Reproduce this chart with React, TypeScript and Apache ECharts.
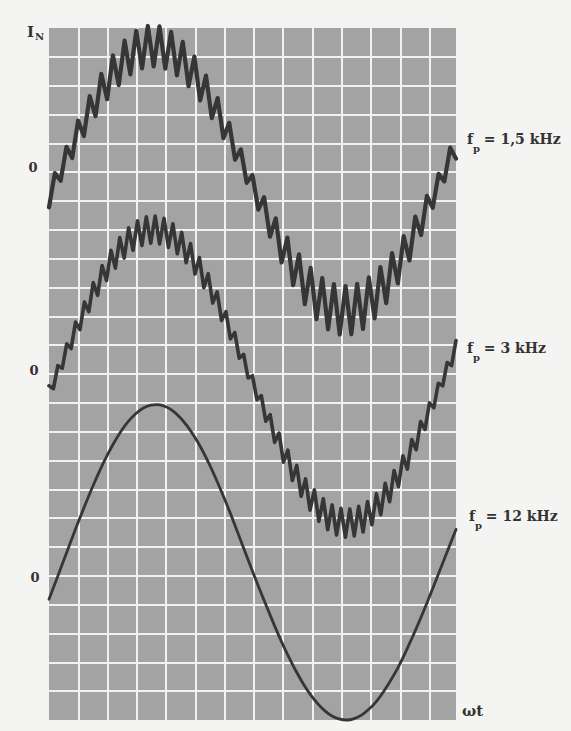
import React, { useEffect, useRef } from "react";
import * as echarts from "echarts";

// ωt axis spans 14 grid columns (last one partly cut), current axis spans 24 grid rows
const X_SPAN = 14;
const GRID_COLS_MAX = 13.9;
const GRID_ROWS = 24;

// f_p = 1.5 kHz current: zig-zag vertices (grid units)
const wave15 = [
  17.78, 18.97, 18.7, 19.88, 19.49, 20.79, 20.25, 21.64, 20.94, 22.41,
  21.53, 23.05, 22.02, 23.56, 22.39, 23.9, 22.6, 24.07, 22.67, 24.06,
  22.59, 23.87, 22.36, 23.52, 21.98, 23.01, 21.49, 22.35, 20.87, 21.57,
  20.18, 20.71, 19.43, 19.79, 18.63, 18.9, 17.7, 18.13, 16.76, 17.4,
  15.87, 16.73, 15.08, 16.15, 14.42, 15.68, 13.9, 15.33, 13.55, 15.12,
  13.37, 15.05, 13.38, 15.13, 13.56, 15.35, 13.93, 15.71, 14.46, 16.19,
  15.14, 16.78, 15.94, 17.46, 16.82, 18.18, 17.76, 18.94, 18.68, 19.85,
  19.47,
];

// f_p = 3 kHz current
const wave3 = [
  11.59, 11.49, 12.29, 12.2, 13.05, 12.88, 13.8, 13.54, 14.5, 14.16,
  15.17, 14.73, 15.76, 15.24, 16.29, 15.67, 16.73, 16.02, 17.07, 16.29,
  17.31, 16.46, 17.45, 16.54, 17.48, 16.51, 17.4, 16.39, 17.21, 16.17,
  16.91, 15.86, 16.52, 15.47, 16.04, 14.99, 15.48, 14.46, 14.85, 13.86,
  14.16, 13.22, 13.44, 12.55, 12.68, 11.86, 11.94, 11.11, 11.25, 10.36,
  10.59, 9.63, 9.95, 8.94, 9.36, 8.31, 8.83, 7.76, 8.36, 7.28,
  7.98, 6.89, 7.67, 6.6, 7.46, 6.42, 7.34, 6.34, 7.32, 6.38,
  7.41, 6.52, 7.58, 6.77, 7.85, 7.12, 8.21, 7.57, 8.65, 8.1,
  9.16, 8.7, 9.73, 9.37, 10.35, 10.08, 11.0, 10.83, 11.68, 11.59,
  12.4, 12.29, 13.16,
];

// f_p = 12 kHz current (smooth), sampled every quarter column
const wave12 = [
  4.19, 4.85, 5.52, 6.19, 6.85, 7.48, 8.09, 8.66, 9.18, 9.64,
  10.05, 10.38, 10.64, 10.82, 10.92, 10.94, 10.87, 10.73, 10.5, 10.2,
  9.83, 9.4, 8.9, 8.35, 7.76, 7.14, 6.48, 5.82, 5.16, 4.52,
  3.9, 3.29, 2.71, 2.18, 1.69, 1.25, 0.87, 0.56, 0.31, 0.13,
  0.03, 0.0, 0.05, 0.17, 0.37, 0.63, 0.97, 1.37, 1.81, 2.32,
  2.87, 3.45, 4.06, 4.69, 5.33, 5.97, 6.61,
];

const seriesNames = ["fp = 1,5 kHz", "fp = 3 kHz", "fp = 12 kHz"];
const freqTexts = [" = 1,5 kHz", " = 3 kHz", " = 12 kHz"];
const zeroLabel = "0";
const yAxisName = "I";
const yAxisSub = "N";
const xAxisName = "ωt";

function toPoints(values: number[]) {
  const n = values.length;
  return values.map((v, i) => [(i * X_SPAN) / (n - 1), v]);
}

const FONT = "DejaVu Serif";
const TXT = "#333333";

function txt(
  text: string,
  x: number,
  y: number,
  size: number,
  align = "left",
  weight = "bold"
) {
  return {
    type: "text",
    x,
    y,
    silent: true,
    style: {
      text,
      font: `${weight} ${size}px "${FONT}"`,
      fill: TXT,
      textAlign: align,
      textVerticalAlign: "middle",
      align,
      verticalAlign: "middle",
    },
  };
}

export default function App() {
  const ref = useRef<HTMLDivElement>(null);

  useEffect(() => {
    if (!ref.current) return;
    const chart = echarts.init(ref.current, undefined, { renderer: "svg" });

    const lineColor = "#363636";
    const graphics: any[] = [
      txt(yAxisName, 27, 31.5, 15),
      txt(yAxisSub, 35, 36, 10),
      txt(zeroLabel, 33, 167, 13, "center"),
      txt(zeroLabel, 34, 370, 13, "center"),
      txt(zeroLabel, 35, 577, 13, "center"),
      txt("f", 467, 139, 14),
      txt("p", 473, 148, 10),
      txt(freqTexts[0], 479, 139, 14),
      txt("f", 467, 348, 14),
      txt("p", 473, 357, 10),
      txt(freqTexts[1], 479, 348, 14),
      txt("f", 469, 516, 14),
      txt("p", 475, 525, 10),
      txt(freqTexts[2], 481, 516, 14),
      txt(xAxisName, 462, 711, 15),
    ];

    chart.setOption({
      animation: false,
      backgroundColor: "#f4f4f2",
      grid: {
        left: 49,
        top: 28,
        width: 407,
        height: 692,
        show: true,
        backgroundColor: "#a3a3a3",
        borderWidth: 0,
      },
      xAxis: [
        { type: "value", min: 0, max: X_SPAN, show: false },
        {
          type: "value",
          min: 0,
          max: GRID_COLS_MAX,
          interval: 1,
          axisLine: { show: false },
          axisTick: { show: false },
          axisLabel: { show: false },
          splitLine: {
            show: true,
            showMinLine: false,
            showMaxLine: false,
            lineStyle: { color: "#f1f1f1", width: 2 },
          },
        },
      ],
      yAxis: {
        type: "value",
        min: 0,
        max: GRID_ROWS,
        interval: 1,
        axisLine: { show: false },
        axisTick: { show: false },
        axisLabel: { show: false },
        splitLine: {
          show: true,
          showMinLine: false,
          showMaxLine: false,
          lineStyle: { color: "#f1f1f1", width: 2 },
        },
      },
      series: [
        {
          name: seriesNames[0],
          type: "line",
          xAxisIndex: 0,
          data: toPoints(wave15),
          showSymbol: false,
          symbol: "none",
          clip: false,
          lineStyle: { color: lineColor, width: 4.2, join: "round", cap: "round" },
        },
        {
          name: seriesNames[1],
          type: "line",
          xAxisIndex: 0,
          data: toPoints(wave3),
          showSymbol: false,
          symbol: "none",
          clip: false,
          lineStyle: { color: lineColor, width: 3.6, join: "round", cap: "round" },
        },
        {
          name: seriesNames[2],
          type: "line",
          xAxisIndex: 0,
          data: toPoints(wave12),
          showSymbol: false,
          symbol: "none",
          smooth: 0.2,
          clip: false,
          lineStyle: { color: lineColor, width: 2.8, join: "round", cap: "round" },
        },
      ],
      graphic: graphics,
    });

    return () => chart.dispose();
  }, []);

  return (
    <div
      ref={ref}
      style={{ position: "fixed", left: 0, top: 0, width: 571, height: 731 }}
    />
  );
}
